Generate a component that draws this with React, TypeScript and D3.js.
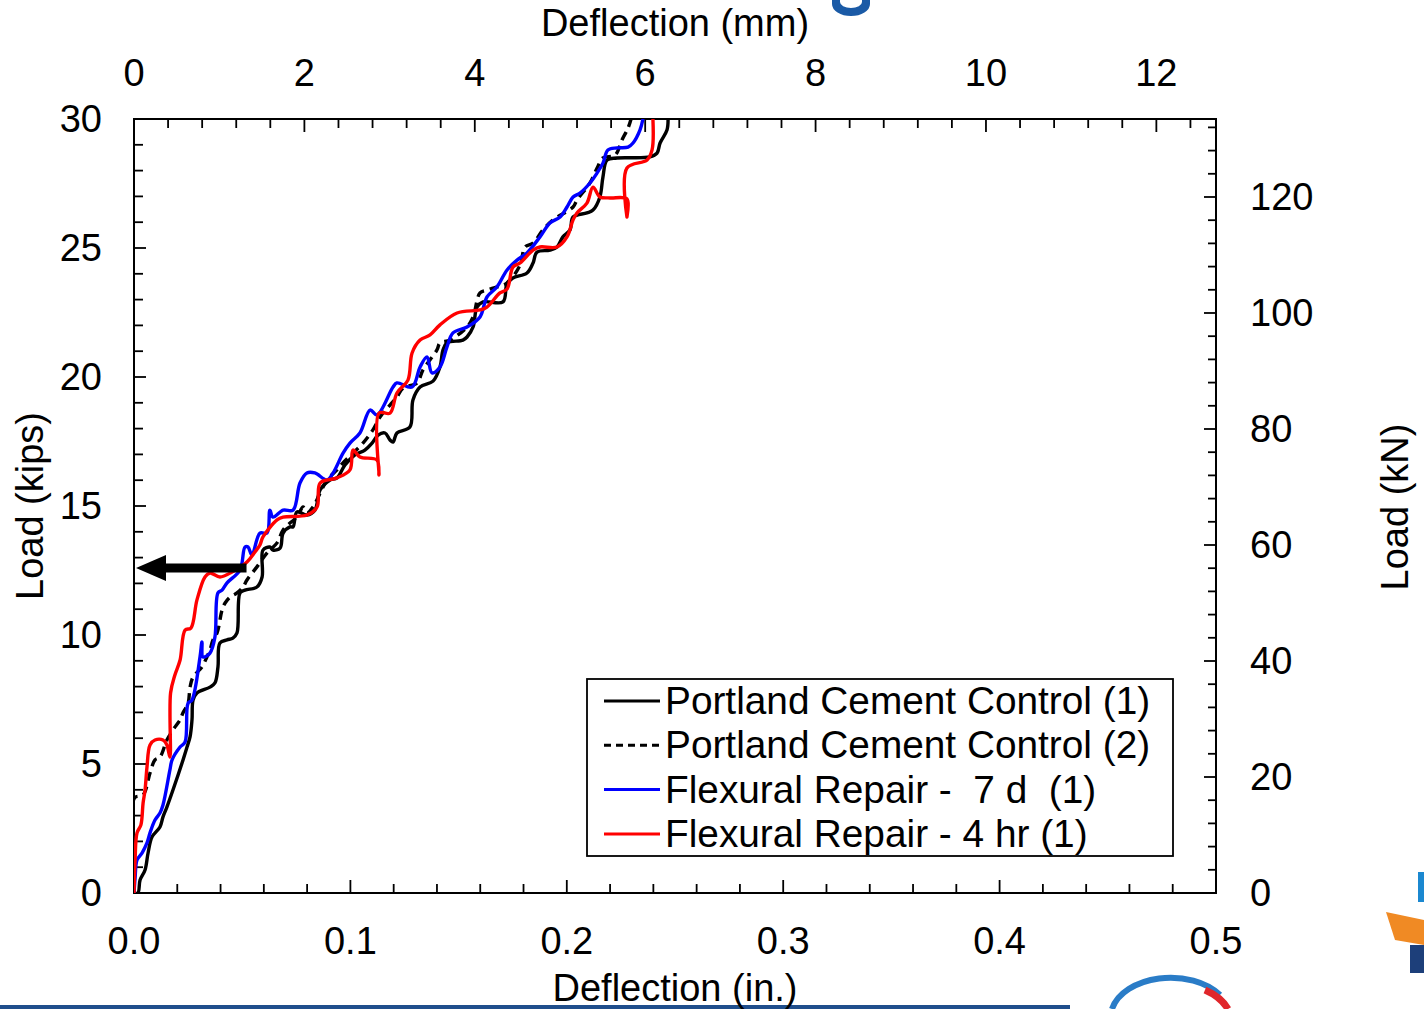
import React from "react";
import * as d3 from "d3";

type Pt = [number, number];

// Deflection (in.) vs Load (kips)
const control1: Pt[] = [
  [0, 0], [0.0018, 0], [0.0028, 0.5], [0.0051, 0.89], [0.0065, 1.55], [0.0083, 2.17], [0.012, 2.56],
  [0.0134, 2.95], [0.0152, 3.33], [0.018, 3.99], [0.0222, 5.04], [0.0245, 5.66], [0.0259, 6.05],
  [0.0268, 6.71], [0.0273, 7.48], [0.0291, 7.75], [0.0351, 7.98], [0.0374, 8.14], [0.0388, 8.76],
  [0.0397, 9.69], [0.043, 9.81], [0.0457, 9.88], [0.0476, 10.08], [0.049, 11.63], [0.0513, 11.74],
  [0.0568, 11.86], [0.0592, 12.25], [0.0596, 13.29], [0.0628, 13.41], [0.0642, 13.29], [0.0675, 13.37],
  [0.0689, 13.95], [0.0721, 14.19], [0.0735, 14.19], [0.0753, 14.77], [0.0799, 14.65], [0.0836, 14.84],
  [0.086, 15.62], [0.0906, 16.01], [0.0938, 16.09], [0.0975, 16.59], [0.1021, 16.98], [0.1067, 17.17],
  [0.11, 17.44], [0.1128, 17.75], [0.116, 17.83], [0.1183, 17.56], [0.1197, 17.48], [0.1215, 17.83],
  [0.1275, 18.06], [0.1289, 19.11], [0.1322, 19.61], [0.1382, 19.84], [0.1414, 20.39], [0.1428, 21.05],
  [0.1446, 21.32], [0.152, 21.43], [0.1539, 21.55], [0.1567, 21.94], [0.1585, 22.71], [0.1613, 22.91],
  [0.1705, 22.91], [0.1724, 23.64], [0.1751, 23.84], [0.1816, 24.03], [0.1844, 24.42], [0.1862, 24.84],
  [0.1922, 24.92], [0.1955, 25.04], [0.1982, 25.43], [0.2015, 25.7], [0.2029, 26.2], [0.2093, 26.36],
  [0.2121, 26.47], [0.2153, 26.98], [0.2167, 27.75], [0.2186, 28.41], [0.2232, 28.49], [0.2384, 28.53],
  [0.2417, 28.68], [0.2431, 29.07], [0.2463, 29.57], [0.2468, 30.0],
];

const control2: Pt[] = [
  [0, 0], [0.0002, 3.68], [0.0042, 3.8], [0.0074, 4.65], [0.0097, 5.16], [0.012, 5.27], [0.0152, 5.93],
  [0.018, 6.32], [0.0213, 6.71], [0.0226, 6.98], [0.025, 7.36], [0.0259, 7.98], [0.0273, 8.37],
  [0.0314, 8.76], [0.0337, 9.15], [0.0351, 9.42], [0.0365, 9.81], [0.0384, 10.08], [0.0407, 10.97],
  [0.0421, 11.24], [0.0444, 11.47], [0.0476, 11.63], [0.0504, 11.86], [0.0522, 12.13], [0.0568, 12.64],
  [0.0615, 13.18], [0.0661, 13.57], [0.0689, 14.07], [0.0721, 14.34], [0.0753, 14.57], [0.0781, 14.96],
  [0.0799, 14.73], [0.0827, 14.96], [0.086, 15.5], [0.0892, 16.01], [0.0938, 16.4], [0.0966, 16.67],
  [0.1012, 17.05], [0.1058, 17.44], [0.1104, 17.95], [0.1137, 18.45], [0.1183, 18.91], [0.1215, 19.22],
  [0.1243, 19.57], [0.1308, 19.77], [0.1335, 20.27], [0.14, 21.05], [0.1414, 21.32], [0.146, 21.43],
  [0.1539, 21.94], [0.1567, 22.33], [0.1599, 23.26], [0.1631, 23.37], [0.1677, 23.49], [0.1724, 23.64],
  [0.1784, 24.34], [0.1807, 25.04], [0.1844, 25.19], [0.189, 25.7], [0.1936, 26.09], [0.2029, 26.59],
  [0.2047, 26.86], [0.2107, 27.52], [0.214, 28.1], [0.2167, 28.49], [0.2223, 28.6], [0.2255, 29.19],
  [0.2283, 29.65], [0.2297, 30.0],
];

const repair7d: Pt[] = [
  [0, 0], [0.0005, 0.58], [0.0014, 1.28], [0.0037, 1.55], [0.006, 1.94], [0.0074, 2.33], [0.0097, 2.83],
  [0.012, 3.1], [0.0134, 3.41], [0.0166, 4.77], [0.0176, 5.16], [0.0213, 5.66], [0.0236, 5.85],
  [0.025, 7.36], [0.0268, 7.48], [0.0305, 9.15], [0.0314, 9.73], [0.0319, 9.15], [0.0351, 9.3],
  [0.0374, 9.92], [0.0388, 11.63], [0.0407, 11.74], [0.043, 12.02], [0.049, 12.52], [0.0513, 13.41],
  [0.0527, 13.41], [0.0545, 13.1], [0.0582, 13.95], [0.0615, 13.95], [0.0628, 14.84], [0.0642, 14.57],
  [0.0689, 14.84], [0.0735, 14.84], [0.0767, 15.89], [0.0799, 16.28], [0.0836, 16.28], [0.0892, 16.01],
  [0.092, 16.28], [0.0966, 17.05], [0.0998, 17.44], [0.1044, 17.83], [0.1091, 18.72], [0.1123, 18.53],
  [0.1197, 19.61], [0.1215, 19.77], [0.1285, 19.61], [0.1322, 20.39], [0.1354, 20.78], [0.1377, 20.16],
  [0.1414, 20.39], [0.1446, 21.16], [0.1474, 21.71], [0.1539, 21.94], [0.1599, 22.33], [0.1631, 23.1],
  [0.1677, 23.49], [0.1724, 24.15], [0.177, 24.53], [0.1816, 24.81], [0.1876, 25.43], [0.1922, 25.97],
  [0.1969, 26.2], [0.2001, 26.59], [0.2029, 26.98], [0.2061, 27.13], [0.2107, 27.52], [0.214, 27.91],
  [0.2167, 28.29], [0.219, 28.8], [0.2232, 28.88], [0.2283, 28.91], [0.2306, 29.07], [0.2338, 29.57],
  [0.2352, 30.0],
];

const repair4hr: Pt[] = [
  [0, 0], [0.0005, 1.28], [0.0014, 2.33], [0.0032, 2.64], [0.0042, 3.49], [0.0051, 3.99], [0.006, 4.88],
  [0.0074, 5.74], [0.0097, 5.93], [0.0134, 5.93], [0.0152, 5.74], [0.0166, 5.27], [0.0169, 7.75],
  [0.0189, 8.45], [0.0213, 9.03], [0.0236, 10.19], [0.0263, 10.27], [0.0291, 11.36], [0.0328, 12.25],
  [0.0351, 12.4], [0.0397, 12.25], [0.0453, 12.44], [0.0522, 12.83], [0.0559, 13.22], [0.0582, 13.49],
  [0.0596, 13.8], [0.0661, 14.46], [0.0689, 14.57], [0.0799, 14.65], [0.0846, 14.96], [0.086, 15.89],
  [0.0938, 16.09], [0.0998, 16.4], [0.1012, 17.17], [0.1044, 16.9], [0.1123, 16.78], [0.1132, 16.2],
  [0.1132, 18.6], [0.1183, 18.6], [0.1215, 19.38], [0.1266, 19.88], [0.1285, 20.93], [0.1322, 21.43],
  [0.1368, 21.63], [0.1414, 22.02], [0.1493, 22.48], [0.1599, 22.6], [0.1631, 22.71], [0.1691, 23.26],
  [0.1724, 23.41], [0.1751, 24.26], [0.1784, 24.42], [0.1844, 24.92], [0.1876, 25.04], [0.1955, 25.04],
  [0.2001, 25.43], [0.2029, 26.09], [0.2047, 26.36], [0.2093, 26.74], [0.2121, 27.36], [0.2153, 26.98],
  [0.22, 26.94], [0.2278, 26.9], [0.2278, 26.2], [0.2278, 28.1], [0.2371, 28.41], [0.2394, 28.8],
  [0.2398, 30.0],
];

const seriesNames = [
  "Portland Cement Control (1)",
  "Portland Cement Control (2)",
  "Flexural Repair -  7 d  (1)",
  "Flexural Repair - 4 hr (1)",
];
const seriesColors = ["#000000", "#000000", "#0000ff", "#ff0000"];
const seriesDash = [null, "9,6", null, null];
const seriesData = [control1, control2, repair7d, repair4hr];

const xTicksIn = [0, 0.1, 0.2, 0.3, 0.4, 0.5];
const xTicksMm = [0, 2, 4, 6, 8, 10, 12];
const yTicksKips = [0, 5, 10, 15, 20, 25, 30];
const yTicksKN = [0, 20, 40, 60, 80, 100, 120];

// arrow: from deflection 0.052 in. back to axis at 12.6 kips
const arrowLoad = 12.6;
const arrowFrom = 0.052;

const W = 1424;
const H = 1009;
const L = 134, R = 1216, T = 119, B = 893;
const FONT = "'Liberation Sans', Arial, sans-serif";

export default function App() {
  const x = d3.scaleLinear().domain([0, 0.5]).range([L, R]);
  const xmm = d3.scaleLinear().domain([0, 12.7]).range([L, R]);
  const y = d3.scaleLinear().domain([0, 30]).range([B, T]);
  const ykN = d3.scaleLinear().domain([0, 30 * 4.44822]).range([B, T]);

  const line = d3.line<Pt>().x((d) => x(d[0])).y((d) => y(d[1])).curve(d3.curveCatmullRom.alpha(0.5));

  const minorX = d3.range(0, 0.5001, 0.02);
  const minorMm = d3.range(0, 12.7, 0.4);
  const minorY = d3.range(0, 30.001, 1);
  const minorKN = d3.range(0, 133.4, 4);

  const ax = x(arrowFrom);
  const ay = y(arrowLoad);
  const tip = x(0) + 2;

  return (
    <svg width={W} height={H} style={{ position: "absolute", left: 0, top: 0, background: "#fff" }}
      fontFamily={FONT}>
      <rect x={0} y={0} width={W} height={H} fill="#fff" />
      {/* slide decorations */}
      <path d="M832,0 L832,4 A19,12 0 0 0 870,4 L870,0 L862,0 L862,2 A11,6 0 0 1 840,2 L840,0 Z" fill="#1a5aa6" />
      <rect x={0} y={1005} width={1070} height={4} fill="#1f4e8c" />
      <path d="M1112,1009 A60,40 0 0 1 1220,995" fill="none" stroke="#2a7cc7" strokeWidth={6} />
      <path d="M1205,990 A60,40 0 0 1 1228,1009" fill="none" stroke="#e0262b" strokeWidth={7} />
      <rect x={1418} y={872} width={6} height={30} fill="#1b88d0" />
      <polygon points="1386,912 1424,920 1424,945 1395,940" fill="#f08a24" />
      <rect x={1410} y={945} width={14} height={28} fill="#1d3f7a" />

      {/* plot frame */}
      <rect x={L} y={T} width={R - L} height={B - T} fill="none" stroke="#000" strokeWidth={2} />

      {/* bottom ticks */}
      {minorX.map((v, i) => {
        const major = i % 5 === 0;
        return <line key={"bx" + i} x1={x(v)} x2={x(v)} y1={B} y2={B - (major ? 13 : 9)} stroke="#000" strokeWidth={1.8} />;
      })}
      {/* top ticks (mm) */}
      {minorMm.map((v, i) => {
        const major = i % 5 === 0;
        return <line key={"tx" + i} x1={xmm(v)} x2={xmm(v)} y1={T} y2={T + (major ? 13 : 9)} stroke="#000" strokeWidth={1.8} />;
      })}
      {/* left ticks */}
      {minorY.map((v, i) => {
        const major = i % 5 === 0;
        return <line key={"ly" + i} x1={L} x2={L + (major ? 12 : 9)} y1={y(v)} y2={y(v)} stroke="#000" strokeWidth={1.8} />;
      })}
      {/* right ticks (kN) */}
      {minorKN.map((v, i) => {
        const major = i % 5 === 0;
        return <line key={"ry" + i} x1={R} x2={R - (major ? 12 : 8)} y1={ykN(v)} y2={ykN(v)} stroke="#000" strokeWidth={1.8} />;
      })}

      {/* tick labels */}
      {xTicksIn.map((v) => (
        <text key={"xl" + v} x={x(v)} y={954} fontSize={38} textAnchor="middle">{v.toFixed(1)}</text>
      ))}
      {xTicksMm.map((v) => (
        <text key={"ml" + v} x={xmm(v)} y={86} fontSize={38} textAnchor="middle">{v}</text>
      ))}
      {yTicksKips.map((v) => (
        <text key={"yl" + v} x={102} y={y(v) + 13} fontSize={38} textAnchor="end">{v}</text>
      ))}
      {yTicksKN.map((v) => (
        <text key={"kl" + v} x={1250} y={ykN(v) + 13} fontSize={38} textAnchor="start">{v}</text>
      ))}

      {/* axis titles */}
      <text x={675} y={36} fontSize={38} textAnchor="middle">Deflection (mm)</text>
      <text x={675} y={1001} fontSize={38} textAnchor="middle">Deflection (in.)</text>
      <text transform={`translate(43,506) rotate(-90)`} fontSize={38} textAnchor="middle">Load (kips)</text>
      <text transform={`translate(1408,507) rotate(-90)`} fontSize={38} textAnchor="middle">Load (kN)</text>

      {/* curves */}
      <defs>
        <clipPath id="plotclip">
          <rect x={L} y={T} width={R - L} height={B - T} />
        </clipPath>
      </defs>
      <g clipPath="url(#plotclip)">
        {seriesData.map((d, i) => (
          <path key={"s" + i} d={line(d) || ""} fill="none" stroke={seriesColors[i]} strokeWidth={3.4}
            strokeDasharray={seriesDash[i] || undefined} strokeLinejoin="round" strokeLinecap="butt" />
        ))}
      </g>

      {/* arrow */}
      <line x1={ax} x2={tip + 26} y1={ay} y2={ay} stroke="#000" strokeWidth={9} />
      <polygon points={`${tip},${ay} ${tip + 30},${ay - 13} ${tip + 30},${ay + 13}`} fill="#000" />

      {/* legend */}
      <rect x={587} y={679} width={586} height={177} fill="#fff" stroke="#000" strokeWidth={1.8} />
      {seriesNames.map((n, i) => {
        const yy = 701 + i * 44.3;
        return (
          <g key={"lg" + i}>
            <line x1={604} x2={660} y1={yy} y2={yy} stroke={seriesColors[i]} strokeWidth={3}
              strokeDasharray={seriesDash[i] ? "7,5" : undefined} />
            <text x={665} y={yy + 13} fontSize={38.8} xmlSpace="preserve" style={{ whiteSpace: "pre" }}>{n}</text>
          </g>
        );
      })}
    </svg>
  );
}
